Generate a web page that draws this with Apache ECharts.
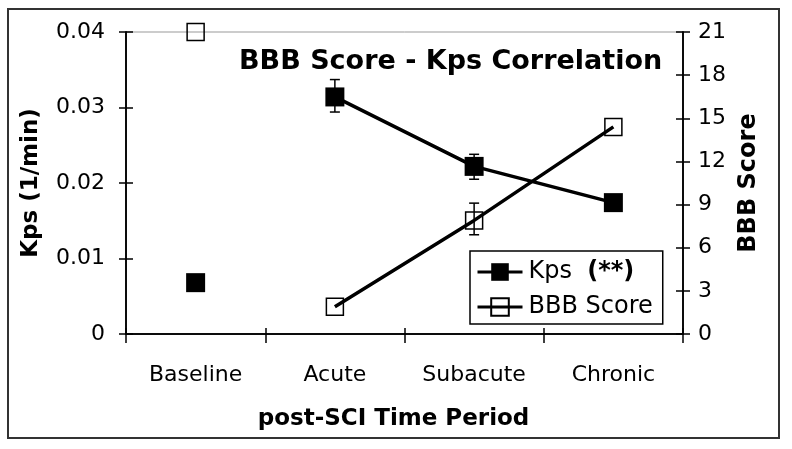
<!DOCTYPE html>
<html>
<head>
<meta charset="utf-8">
<script src="https://cdn.jsdelivr.net/npm/echarts@6/dist/echarts.min.js"></script>
<style>
  html, body { margin: 0; padding: 0; background: #fff; }
  #chart { width: 792px; height: 449px; }
</style>
</head>
<body>
<div id="chart"></div>
<script>
// data
const categories = ['Baseline', 'Acute', 'Subacute', 'Chronic'];
const kps = [0.0068, 0.0314, 0.0222, 0.0174];
const kpsErrLow = [null, 0.0294, 0.0205, null];
const kpsErrHigh = [null, 0.0337, 0.0238, null];
const bbb = [21, 1.9, 7.9, 14.4];
const bbbErrLow = [null, null, 6.9, null];
const bbbErrHigh = [null, null, 9.1, null];

const FONT = 'DejaVu Sans';
const chart = echarts.init(document.getElementById('chart'));

// baseline points stand alone, the rest are joined by a line
const joined = arr => arr.map((v, i) => (i === 0 ? '-' : v));
const errData = (lo, hi) => lo.map((v, i) => (v == null ? null : [i, v, hi[i]])).filter(d => d);

function errorBars(yAxisIndex, data) {
    return {
        type: 'custom',
        xAxisIndex: 0,
        yAxisIndex: yAxisIndex,
        z: 1,
        silent: true,
        renderItem(params, api) {
            const top = api.coord([api.value(0), api.value(2)]);
            const bot = api.coord([api.value(0), api.value(1)]);
            const w = 5;
            const st = { stroke: '#000', lineWidth: 1.5 };
            return {
                type: 'group',
                children: [
                    { type: 'line', shape: { x1: top[0], y1: top[1], x2: bot[0], y2: bot[1] }, style: st },
                    { type: 'line', shape: { x1: top[0] - w, y1: top[1], x2: top[0] + w, y2: top[1] }, style: st },
                    { type: 'line', shape: { x1: bot[0] - w, y1: bot[1], x2: bot[0] + w, y2: bot[1] }, style: st }
                ]
            };
        },
        data: data
    };
}

const axisLine = { show: true, lineStyle: { color: '#000', width: 1.5 } };
const tickStyle = { color: '#000', width: 1.5 };

function yAxis(pos, max, interval, inside, fmt, margin) {
    return {
        type: 'value', position: pos, min: 0, max: max, interval: interval,
        axisLine: axisLine,
        axisTick: { show: true, inside: inside, length: 7, lineStyle: tickStyle },
        axisLabel: inside ? { show: false } : {
            show: true, color: '#000', fontFamily: FONT, fontSize: 22, margin: margin, formatter: fmt
        },
        splitLine: { show: false }
    };
}

const option = {
    backgroundColor: '#fff',
    animation: false,
    graphic: [{
        type: 'rect', shape: { x: 8, y: 9, width: 771, height: 429 },
        style: { fill: 'none', stroke: '#333', lineWidth: 2 }, silent: true
    }],
    title: {
        text: 'BBB Score - Kps Correlation',
        left: 234, top: 43,
        textStyle: { fontFamily: FONT, fontWeight: 'bold', fontSize: 27, color: '#000' }
    },
    grid: {
        left: 126, right: 109, top: 32, bottom: 115,
        show: true, borderColor: '#999', borderWidth: 1, backgroundColor: 'transparent'
    },
    legend: {
        data: ['Kps', 'BBB Score'],
        orient: 'vertical',
        left: 470, top: 251,
        padding: [9, 10, 5, 6],
        itemGap: 11,
        itemWidth: 45, itemHeight: 22,
        borderColor: '#000', borderWidth: 1.5,
        backgroundColor: '#fff',
        lineStyle: { width: 3, color: '#000' },
        formatter: name => (name === 'Kps' ? '{n|Kps}  {b|(**)}' : '{n|' + name + '}'),
        textStyle: {
            color: '#000', fontFamily: FONT, fontSize: 24, padding: [0, 0, 0, 1],
            rich: {
                n: { fontFamily: FONT, fontSize: 24, color: '#000' },
                b: { fontFamily: FONT, fontSize: 24, fontWeight: 'bold', color: '#000' }
            }
        }
    },
    xAxis: [{
        type: 'category', data: categories, position: 'bottom',
        name: 'post-SCI Time Period', nameLocation: 'middle', nameGap: 74,
        nameTextStyle: { fontFamily: FONT, fontWeight: 'bold', fontSize: 23, color: '#000', padding: [0, 22, 0, 0] },
        axisLine: axisLine,
        axisTick: { show: true, length: 9, lineStyle: tickStyle },
        axisLabel: { color: '#000', fontFamily: FONT, fontSize: 22, margin: 30 },
        splitLine: { show: false }
    }, {
        type: 'category', data: categories, position: 'bottom', gridIndex: 0,
        axisLine: axisLine,
        axisTick: { show: true, inside: true, length: 6, lineStyle: tickStyle },
        axisLabel: { show: false },
        splitLine: { show: false }
    }],
    yAxis: [
        Object.assign(yAxis('left', 0.04, 0.01, false, v => (v === 0 ? '0' : v.toFixed(2)), 21), {
            name: 'Kps (1/min)', nameLocation: 'middle', nameGap: 83, nameRotate: 90,
            nameTextStyle: { fontFamily: FONT, fontWeight: 'bold', fontSize: 23, color: '#000' }
        }),
        Object.assign(yAxis('right', 21, 3, false, v => String(v), 15), {
            name: 'BBB Score', nameLocation: 'middle', nameGap: 53, nameRotate: 90,
            nameTextStyle: { fontFamily: FONT, fontWeight: 'bold', fontSize: 24, color: '#000' }
        }),
        yAxis('left', 0.04, 0.01, true),
        yAxis('right', 21, 3, true)
    ],
    series: [
        errorBars(0, errData(kpsErrLow, kpsErrHigh)),
        errorBars(1, errData(bbbErrLow, bbbErrHigh)),
        {
            name: 'BBB Score', type: 'line', yAxisIndex: 1, z: 2,
            data: joined(bbb),
            symbol: 'rect', symbolSize: 17,
            lineStyle: { color: '#000', width: 3.5 },
            itemStyle: { color: 'transparent', borderColor: '#000', borderWidth: 1.5 }
        },
        {
            name: 'BBB Score', type: 'scatter', yAxisIndex: 1, z: 2,
            data: [[0, bbb[0]]],
            symbol: 'rect', symbolSize: 17,
            itemStyle: { color: 'transparent', borderColor: '#000', borderWidth: 1.5, opacity: 1 }
        },
        {
            name: 'Kps', type: 'line', yAxisIndex: 0, z: 3,
            data: joined(kps),
            symbol: 'rect', symbolSize: 19,
            lineStyle: { color: '#000', width: 3.5 },
            itemStyle: { color: '#000', borderColor: '#000', borderWidth: 0 }
        },
        {
            name: 'Kps', type: 'scatter', yAxisIndex: 0, z: 3,
            data: [[0, kps[0]]],
            symbol: 'rect', symbolSize: 19,
            itemStyle: { color: '#000', opacity: 1 }
        }
    ]
};

chart.setOption(option);
</script>
</body>
</html>
